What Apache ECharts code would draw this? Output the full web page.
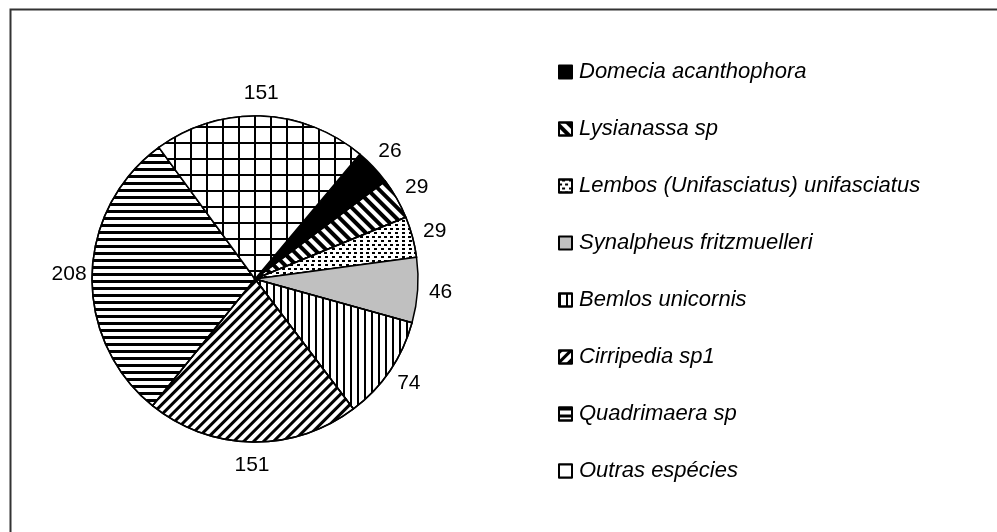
<!DOCTYPE html>
<html>
<head>
<meta charset="utf-8">
<script src="https://cdn.jsdelivr.net/npm/echarts@6/dist/echarts.min.js"></script>
<style>
html,body{margin:0;padding:0;background:#fff;overflow:hidden;}
#chart{width:997px;height:532px;}
</style>
</head>
<body>
<div id="chart"></div>
<script>
const categories = ['Domecia acanthophora','Lysianassa sp','Lembos (Unifasciatus) unifasciatus','Synalpheus fritzmuelleri','Bemlos unicornis','Cirripedia sp1','Quadrimaera sp','Outras espécies'];
const values = [26, 29, 29, 46, 74, 151, 208, 151];

const fills = [
  {color:'#000000'},
  {color:'#ffffff', decal:{symbol:'rect', symbolSize:1, color:'#000', dashArrayX:[1,0], dashArrayY:[4,4], rotation:Math.PI/4}},
  {color:'#ffffff', decal:{symbol:'rect', symbolSize:1, color:'#000', dashArrayX:[[2.2,2.3],[0,2.25,2.2,0.05]], dashArrayY:[2,1.3], rotation:0}},
  {color:'#c0c0c0'},
  {color:'#ffffff', decal:{symbol:'rect', symbolSize:1, color:'#000', dashArrayX:[2,4.7], dashArrayY:[1,0], rotation:0}},
  {color:'#ffffff', decal:{symbol:'rect', symbolSize:1, color:'#000', dashArrayX:[1,0], dashArrayY:[2.8,3.8], rotation:-Math.PI/4}},
  {color:'#ffffff', decal:{symbol:'rect', symbolSize:1, color:'#000', dashArrayX:[1,0], dashArrayY:[3,3.6], rotation:0}},
  {color:'#000000', decal:{symbol:'rect', symbolSize:1, color:'#fff', backgroundColor:'#000', dashArrayX:[14,1.6], dashArrayY:[14,1.6], rotation:0}}
];

const pieData = categories.map((n, i) => ({
  name: n, value: values[i],
  itemStyle: Object.assign({borderColor:'#000', borderWidth:1.5}, fills[i])
}));
const labelData = categories.map((n, i) => ({name: n, value: values[i]}));

const chart = echarts.init(document.getElementById('chart'), null, {renderer:'canvas'});
chart.setOption({
  animation: false,
  backgroundColor: '#fff',
  graphic: [{
    type: 'rect', left: 8, top: 7, silent: true,
    shape: {width: 1200, height: 800},
    style: {fill: 'none', stroke: '#333', lineWidth: 2}
  }],
  legend: {
    orient: 'vertical',
    left: 553, top: 56,
    itemWidth: 13, itemHeight: 13, itemGap: 35,
    icon: 'rect',
    data: categories,
    textStyle: {fontFamily: 'Liberation Sans', fontStyle: 'italic', fontSize: 22, color: '#000', padding:[0,0,0,2]},
    selectedMode: false
  },
  series: [{
    type: 'pie',
    center: [255, 279], radius: 163,
    startAngle: 50, clockwise: true,
    label: {show: false}, labelLine: {show: false},
    emphasis: {disabled: true},
    data: pieData
  }, {
    type: 'pie',
    center: [255, 279], radius: [181, 185],
    startAngle: 50, clockwise: true,
    silent: true,
    itemStyle: {color: 'rgba(0,0,0,0)', borderWidth: 0},
    label: {show: true, position: 'inside', formatter: '{c}', fontFamily: 'Liberation Sans', fontSize: 21, color: '#000'},
    labelLine: {show: false},
    emphasis: {disabled: true},
    data: labelData
  }]
});
</script>
</body>
</html>
